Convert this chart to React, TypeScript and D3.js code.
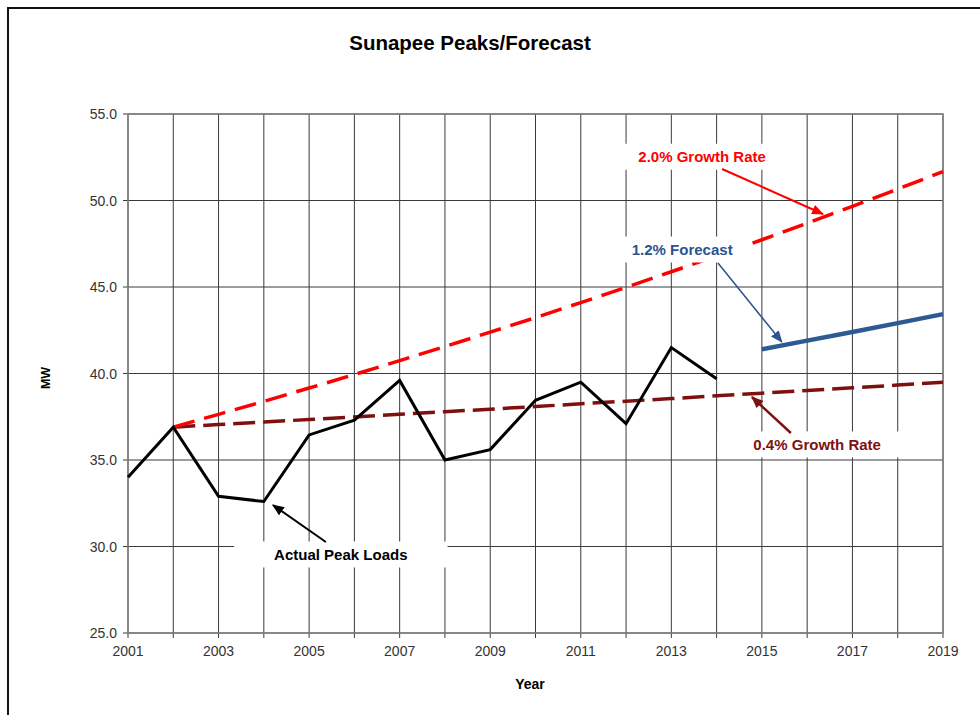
import React, { useEffect, useRef } from "react";
import * as d3 from "d3";

// chart values
const years = [2001, 2002, 2003, 2004, 2005, 2006, 2007, 2008, 2009, 2010, 2011, 2012, 2013, 2014, 2015, 2016, 2017, 2018, 2019];
const yearLabels = [2001, 2003, 2005, 2007, 2009, 2011, 2013, 2015, 2017, 2019];
const mwTicks = [25, 30, 35, 40, 45, 50, 55];

const actualYears = [2001, 2002, 2003, 2004, 2005, 2006, 2007, 2008, 2009, 2010, 2011, 2012, 2013, 2014];
const actualLoads = [34.0, 36.9, 32.9, 32.6, 36.45, 37.3, 39.6, 35.0, 35.6, 38.45, 39.5, 37.1, 41.5, 39.7];

const growthYears = [2002, 2003, 2004, 2005, 2006, 2007, 2008, 2009, 2010, 2011, 2012, 2013, 2014, 2015, 2016, 2017, 2018, 2019];
const growth20 = [36.9, 37.64, 38.39, 39.16, 39.94, 40.74, 41.56, 42.39, 43.23, 44.1, 44.98, 45.88, 46.8, 47.73, 48.69, 49.66, 50.66, 51.67];
const growth04 = [36.9, 37.05, 37.2, 37.34, 37.49, 37.64, 37.79, 37.94, 38.09, 38.25, 38.4, 38.55, 38.71, 38.86, 39.02, 39.17, 39.33, 39.49];

const forecastYears = [2015, 2016, 2017, 2018, 2019];
const forecast12 = [41.4, 41.9, 42.4, 42.91, 43.43];

const FONT = "'Liberation Sans', Arial, sans-serif";

// label centre, arrow start and arrow tip, in year / MW
const annotations = [
  { text: "2.0% Growth Rate", color: "#ff0000", at: [2013.68, 52.5], from: [2014.12, 51.82], to: [2016.35, 49.22], pad: 28, width: 2 },
  { text: "1.2% Forecast", color: "#2c5490", at: [2013.24, 47.14], from: [2014.03, 46.39], to: [2015.44, 41.82], pad: 14, width: 1.5 },
  { text: "0.4% Growth Rate", color: "#7f1010", at: [2016.22, 35.87], from: [2015.64, 36.56], to: [2014.78, 38.64], pad: 36, width: 2.5 },
  { text: "Actual Peak Loads", color: "#000000", at: [2005.7, 29.51], from: [2005.37, 30.26], to: [2004.2, 32.4], pad: 40, width: 2 },
];

export default function App() {
  const ref = useRef<SVGSVGElement>(null);

  useEffect(() => {
    const svg = d3.select(ref.current);
    svg.selectAll("*").remove();

    const x = d3.scaleLinear().domain([2001, 2019]).range([128, 943]);
    const y = d3.scaleLinear().domain([25, 55]).range([633, 114]);

    // outer frame (only top/left visible)
    svg.append("path").attr("d", "M8,720 V8 H990").attr("fill", "none").attr("stroke", "#111").attr("stroke-width", 2);

    svg.append("text")
      .attr("x", 470).attr("y", 50)
      .attr("text-anchor", "middle")
      .attr("font-family", FONT).attr("font-size", 20.5).attr("font-weight", "bold")
      .text("Sunapee Peaks/Forecast");

    const grid = svg.append("g");
    grid.selectAll("line.v")
      .data(years)
      .enter().append("line")
      .attr("x1", d => x(d)).attr("x2", d => x(d))
      .attr("y1", y(55)).attr("y2", y(25) + 5)
      .attr("stroke", "#3a3a3a").attr("stroke-width", 1);
    grid.selectAll("line.h")
      .data(mwTicks)
      .enter().append("line")
      .attr("x1", x(2001) - 5).attr("x2", x(2019))
      .attr("y1", d => y(d)).attr("y2", d => y(d))
      .attr("stroke", "#3a3a3a").attr("stroke-width", 1);
    grid.append("rect")
      .attr("x", x(2001)).attr("y", y(55))
      .attr("width", x(2019) - x(2001)).attr("height", y(25) - y(55))
      .attr("fill", "none").attr("stroke", "#808080").attr("stroke-width", 1.5);

    svg.append("g").selectAll("text")
      .data(mwTicks)
      .enter().append("text")
      .attr("x", 117).attr("y", d => y(d) + 5)
      .attr("text-anchor", "end")
      .attr("font-family", FONT).attr("font-size", 14).attr("fill", "#333")
      .text(d => d.toFixed(1));

    svg.append("g").selectAll("text")
      .data(yearLabels)
      .enter().append("text")
      .attr("x", d => x(d)).attr("y", 656)
      .attr("text-anchor", "middle")
      .attr("font-family", FONT).attr("font-size", 14).attr("fill", "#333")
      .text(d => d);

    svg.append("text")
      .attr("transform", "translate(50,378) rotate(-90)")
      .attr("text-anchor", "middle")
      .attr("font-family", FONT).attr("font-size", 12.5).attr("font-weight", "bold")
      .text("MW");
    svg.append("text")
      .attr("x", 530).attr("y", 689)
      .attr("text-anchor", "middle")
      .attr("font-family", FONT).attr("font-size", 14).attr("font-weight", "bold")
      .text("Year");

    const line = d3.line<[number, number]>().x(d => x(d[0])).y(d => y(d[1]));
    const pairs = (xs: number[], vs: number[]) => xs.map((d, i) => [d, vs[i]] as [number, number]);

    const marks = svg.append("g");
    marks.append("path")
      .attr("d", line(pairs(growthYears, growth04)))
      .attr("fill", "none").attr("stroke", "#7f1010").attr("stroke-width", 3.5)
      .attr("stroke-dasharray", "22 8");
    marks.append("path")
      .attr("d", line(pairs(growthYears, growth20)))
      .attr("fill", "none").attr("stroke", "#ff0000").attr("stroke-width", 3.5)
      .attr("stroke-dasharray", "22 10");
    marks.append("path")
      .attr("d", line(pairs(actualYears, actualLoads)))
      .attr("fill", "none").attr("stroke", "#000").attr("stroke-width", 3);
    marks.append("path")
      .attr("d", line(pairs(forecastYears, forecast12)))
      .attr("fill", "none").attr("stroke", "#2e5a94").attr("stroke-width", 4.5);

    // label boxes sit above the grid and lines, as in the original
    const boxes = svg.append("g");
    const labels = svg.append("g");

    const defs = svg.append("defs");
    annotations.forEach((a, i) => {
      defs.append("marker")
        .attr("id", "arrow" + i)
        .attr("markerUnits", "userSpaceOnUse")
        .attr("markerWidth", 12).attr("markerHeight", 10)
        .attr("refX", 11).attr("refY", 5)
        .attr("orient", "auto")
        .append("path").attr("d", "M0,0 L12,5 L0,10 z").attr("fill", a.color);

      const t = labels.append("text")
        .attr("x", x(a.at[0])).attr("y", y(a.at[1]) + 5)
        .attr("text-anchor", "middle")
        .attr("font-family", FONT).attr("font-size", 15).attr("font-weight", "bold")
        .attr("fill", a.color)
        .text(a.text);
      const bb = (t.node() as SVGTextElement).getBBox();
      boxes.append("rect")
        .attr("x", bb.x - a.pad).attr("y", y(a.at[1]) - 13.5)
        .attr("width", bb.width + a.pad * 2).attr("height", 26)
        .attr("fill", "#fff");

      labels.append("line")
        .attr("x1", x(a.from[0])).attr("y1", y(a.from[1]))
        .attr("x2", x(a.to[0])).attr("y2", y(a.to[1]))
        .attr("stroke", a.color).attr("stroke-width", a.width)
        .attr("marker-end", `url(#arrow${i})`);
    });
  }, []);

  return (
    <svg
      ref={ref}
      width={980}
      height={715}
      style={{ position: "absolute", left: 0, top: 0, background: "#fff" }}
    />
  );
}
